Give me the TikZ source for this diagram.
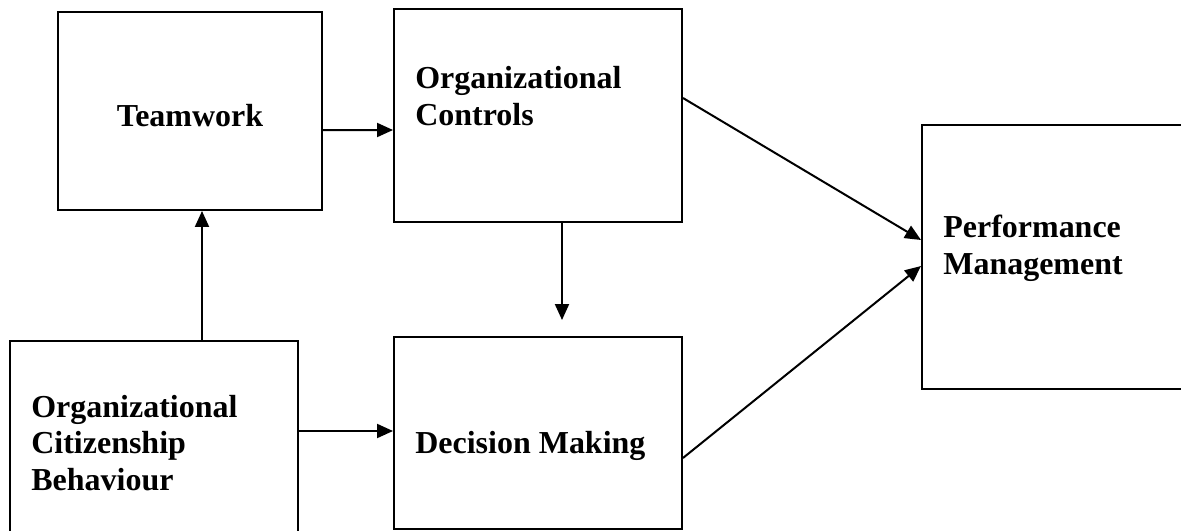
\documentclass[tikz,border=0pt]{standalone}
\usepackage{fontspec}
\setmainfont{Liberation Serif}
\usetikzlibrary{arrows.meta,calc}

\begin{document}
\begin{tikzpicture}[x=0.02cm, y=-0.02cm,
    box/.style={draw, line width=0.04cm, inner sep=0pt},
    lbl/.style={font=\bfseries\fontsize{18.2}{20.5}\selectfont, inner sep=0pt, align=left},
    arr/.style={line width=0.04cm, -{Triangle[length=0.32cm, width=0.28cm]}}]

% page frame, the right and bottom boxes run off it
\useasboundingbox (0,0) rectangle (1181,531);
\clip (0,0) rectangle (1181,531);

% boxes
\node[box, minimum width=5.28cm, minimum height=3.96cm] (tw) at (190,111) {};
\node[box, minimum width=5.76cm, minimum height=4.26cm] (oc) at (538,115.5) {};
\node[box, minimum width=5.56cm, minimum height=5.28cm] (pm) at (1061,257) {};
\node[box, minimum width=5.76cm, minimum height=4.08cm] (ocb) at (154,443) {};
\node[box, minimum width=5.76cm, minimum height=3.84cm] (dm) at (538,433) {};

% texts (base = baseline of the last line)
\node[lbl, anchor=base] (twtext) at (190,126) {Teamwork};
\node[lbl, anchor=base west] (octext) at (415,125) {Organizational\\Controls};
\node[lbl, anchor=base west] (pmtext) at (943,274) {Performance\\Management};
\node[lbl, anchor=base west] (ocbtext) at (31,490) {Organizational\\Citizenship\\Behaviour};
\node[lbl, anchor=base west] (dmtext) at (415,453) {Decision Making};

% links
\draw[arr] ($(tw.east)+(0,19)$) -- ($(oc.west)+(0,14.5)$);
\draw[arr] ($(ocb.north)+(48,0)$) coordinate (up) -- (up |- tw.south);
\draw[arr, shorten >=0.32cm] ($(oc.south)+(24,0)$) coordinate (dn) -- (dn |- dm.north);
\draw[arr] ($(ocb.east)+(0,-12)$) -- ($(dm.west)+(0,-2)$);

% both paths into performance management
\draw[arr] ($(oc.east)+(0,-17.5)$) -- ($(pm.west)+(0,-17)$);
\draw[arr] ($(dm.east)+(0,25)$) -- ($(pm.west)+(0,9)$);

\end{tikzpicture}
\end{document}
